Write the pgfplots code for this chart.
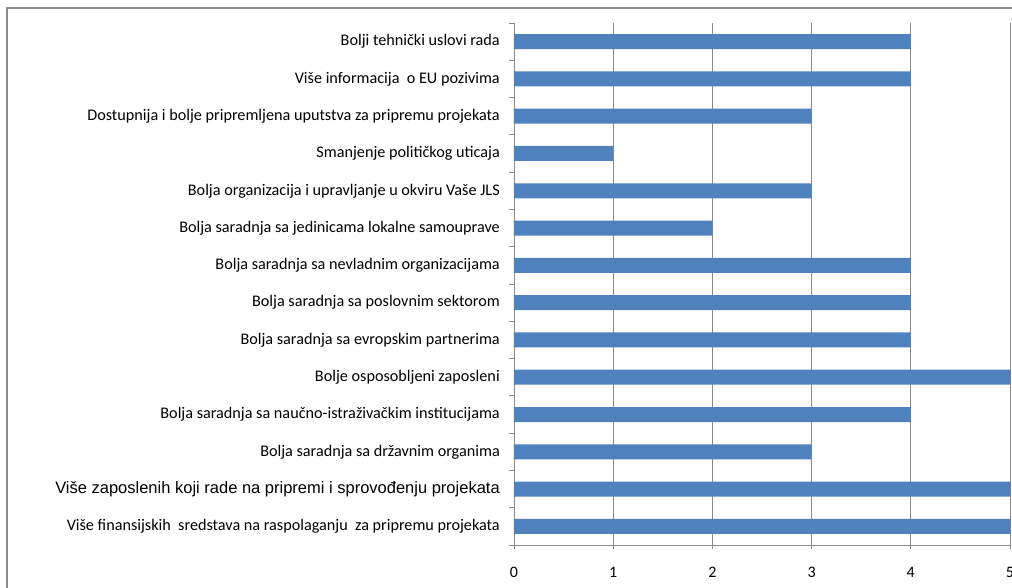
\documentclass[border=0pt]{standalone}
\usepackage{pgfplots}
\pgfplotsset{compat=1.18}
\usepackage{fontspec}
\setmainfont{Carlito}
\newfontfamily\arialf{Liberation Sans}
\definecolor{barblue}{HTML}{4F81BD}
\definecolor{framegray}{HTML}{8C8C8C}
\definecolor{gridgray}{HTML}{8A8A8A}
\begin{document}
\begin{tikzpicture}[x=1pt,y=1pt]
\useasboundingbox (0,0) rectangle (1012,587);
\draw[framegray, line width=1.2pt] (1030,579) -- (7,579) -- (7,-10);
\begin{axis}[
  at={(514pt,42pt)}, anchor=south west,
  scale only axis, width=496pt, height=522pt,
  xmin=0, xmax=5, ymin=-0.5, ymax=13.5,
  axis lines*=left,
  axis line style={gridgray, line width=0.8pt},
  xtick={0,1,2,3,4,5},
  xmajorgrids, grid style={gridgray, line width=0.8pt},
  ytick={0,...,13},
  minor ytick={-0.5,0.5,...,13.5},
  major tick length=0pt,
  minor tick length=5pt,
  tick style={gridgray, line width=0.8pt},
  extra x ticks={0,1,2,3,4,5},
  extra x tick labels={},
  extra x tick style={major tick length=7pt, tick align=center, grid=none},
  yticklabels={
    Više finansijskih~ sredstava na raspolaganju~ za pripremu projekata,
    {\arialf\fontsize{16.5}{18}\selectfont Više zaposlenih koji rade na pripremi i sprovođenju projekata},
    Bolja saradnja sa državnim organima,
    Bolja saradnja sa naučno-istraživačkim institucijama,
    Bolje osposobljeni zaposleni,
    Bolja saradnja sa evropskim partnerima,
    Bolja saradnja sa poslovnim sektorom,
    Bolja saradnja sa nevladnim organizacijama,
    Bolja saradnja sa jedinicama lokalne samouprave,
    Bolja organizacija i upravljanje u okviru Vaše JLS,
    Smanjenje političkog uticaja,
    Dostupnija i bolje pripremljena uputstva za pripremu projekata,
    Više informacija~ o EU pozivima,
    Bolji tehnički uslovi rada
  },
  yticklabel style={font=\fontsize{16.2}{18}\selectfont, anchor=east, inner sep=0pt, xshift=-14pt},
  xticklabel style={font=\fontsize{16}{18}\selectfont, /pgf/number format/assume math mode=true, anchor=north, inner sep=0pt, yshift=-22pt},
  xbar, bar width=15pt,
]
\addplot[fill=barblue, draw=none] coordinates {
  (5,0) (5,1) (3,2) (4,3) (5,4) (4,5) (4,6) (4,7) (2,8) (3,9) (1,10) (3,11) (4,12) (4,13)
};
\end{axis}
\end{tikzpicture}
\end{document}
